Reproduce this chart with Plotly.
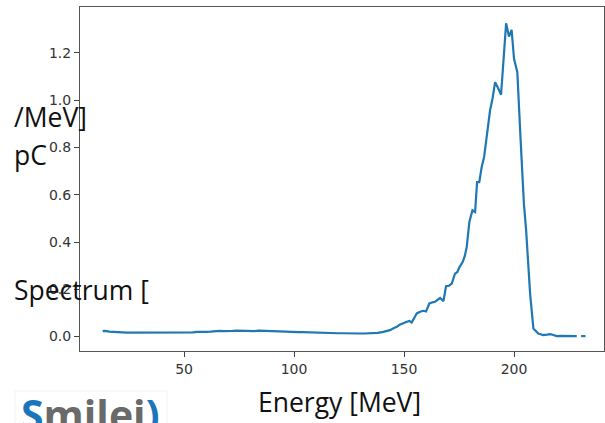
import plotly.graph_objects as go

# Energy [MeV] and spectrum [pC/MeV]
energy = [13, 14, 16, 18, 20, 22, 24, 26, 28, 30, 32, 34, 36, 38, 40, 42, 44, 46, 48, 50,
          52, 54, 56, 58, 60, 62, 64, 66, 68, 70, 72, 74, 76, 78, 80, 82, 84, 86, 88, 90,
          92, 94, 96, 98, 100, 102, 104, 106, 108, 110, 112, 114, 116, 118, 120, 122, 124,
          126, 128, 130, 132, 134, 136, 138,
          140.6, 142, 143.6, 145, 146.7, 148, 149.7, 151, 152.4, 153.5, 155, 155.8, 157.3,
          158.8, 160, 161.5, 163, 164.1, 165.2, 166.4, 167.9, 169.1, 170.4, 171.7, 173.2,
          174.2, 175.2, 176.7, 177.6, 178.5, 179.7, 181.1, 182.3, 183.2, 184.2, 185.3,
          186.4, 187.6, 189.1, 190.3, 191.4, 192.8, 194.1, 195.3, 196.4, 197.7, 198.9,
          200.0, 201.5, 203.0, 204.5, 205.5, 207.3, 208.8, 210, 211, 212, 213.3, 215,
          216.4, 217.5, 219.4, 221, 223, 225, 227, 228.5, 229.5, 230.5, 232.5]
spectrum = [0.023, 0.024, 0.021, 0.019, 0.018, 0.018, 0.017, 0.017, 0.016, 0.016, 0.016,
            0.017, 0.016, 0.017, 0.017, 0.018, 0.017, 0.018, 0.017, 0.018, 0.019, 0.018,
            0.020, 0.019, 0.020, 0.021, 0.023, 0.024, 0.023, 0.025, 0.024, 0.025, 0.024,
            0.023, 0.024, 0.023, 0.025, 0.024, 0.025, 0.025, 0.024, 0.022, 0.021, 0.021,
            0.020, 0.019, 0.019, 0.018, 0.018, 0.017, 0.017, 0.016, 0.016, 0.015, 0.014,
            0.014, 0.013, 0.014, 0.013, 0.013, 0.013, 0.014, 0.014, 0.016,
            0.020, 0.023, 0.027, 0.034, 0.041, 0.050, 0.058, 0.062, 0.066, 0.060, 0.085,
            0.098, 0.105, 0.109, 0.106, 0.140, 0.145, 0.147, 0.155, 0.163, 0.150, 0.213,
            0.215, 0.224, 0.267, 0.272, 0.294, 0.316, 0.340, 0.379, 0.485, 0.534, 0.527,
            0.653, 0.653, 0.717, 0.760, 0.840, 0.956, 1.010, 1.076, 1.050, 1.023, 1.180,
            1.325, 1.269, 1.297, 1.175, 1.118, 0.830, 0.560, 0.450, 0.182, 0.034, 0.020,
            0.013, 0.010, 0.006, 0.008, 0.010, 0.008, 0.002, 0.003, 0.002, 0.002, 0.002,
            0.002, None, 0.002, 0.002]

x_ticks = [50, 100, 150, 200]
y_ticks = [0.0, 0.2, 0.4, 0.6, 0.8, 1.0, 1.2]
y_tick_text = ["0.0", "0.2", "0.4", "0.6", "0.8", "1.0", "1.2"]

W, H = 605, 423
L, R, T, B = 80, 604, 7, 351


def px(x):
    return (x - L) / (R - L)


def py(y):
    return (B - y) / (B - T)


fig = go.Figure()
fig.add_trace(go.Scatter(x=energy, y=spectrum, mode="lines",
                         line=dict(color="#1f77b4", width=2.2),
                         connectgaps=False, hoverinfo="skip"))

axis_common = dict(showgrid=False, zeroline=False, showline=True, linecolor="#555",
                   linewidth=1, mirror=True, ticks="outside", ticklen=5, tickwidth=1,
                   tickcolor="#444",
                   tickfont=dict(family="DejaVu Sans", size=14, color="#333"))
fig.update_xaxes(range=[2.7, 240.9], tickvals=x_ticks, **axis_common)
fig.update_yaxes(range=[-0.061, 1.394], tickvals=y_ticks, ticktext=y_tick_text,
                 **axis_common)

lab_font = dict(family="Open Sans", size=26.5, color="#111")
ann = []
ann.append(dict(text="Energy [MeV]", x=px(339), y=py(402), xref="paper", yref="paper",
                xanchor="center", yanchor="middle", showarrow=False, font=lab_font))
for txt, yc in [("/MeV]", 117), ("pC", 155), ("Spectrum [", 290)]:
    ann.append(dict(text=txt, x=px(12), y=py(yc), xref="paper", yref="paper",
                    xanchor="left", yanchor="middle", showarrow=False, font=lab_font))
ann.append(dict(text='<b><span style="color:#1b75bc">S</span>'
                     '<span style="color:#6a6a6a">milei</span>'
                     '<span style="color:#1b75bc">)</span></b>',
                x=px(19), y=py(384), xref="paper", yref="paper", xanchor="left",
                yanchor="top", showarrow=False,
                font=dict(family="Open Sans", size=41, color="#1b75bc")))

fig.update_layout(width=W, height=H, margin=dict(l=L, r=W - R, t=T, b=H - B),
                  paper_bgcolor="white", plot_bgcolor="white", showlegend=False,
                  annotations=ann)
fig.add_shape(type="rect", xref="paper", yref="paper", x0=px(15), x1=px(167),
              y0=py(430), y1=py(391), line=dict(color="#f2f2f2", width=1),
              layer="below")

fig.write_html("out.html")
